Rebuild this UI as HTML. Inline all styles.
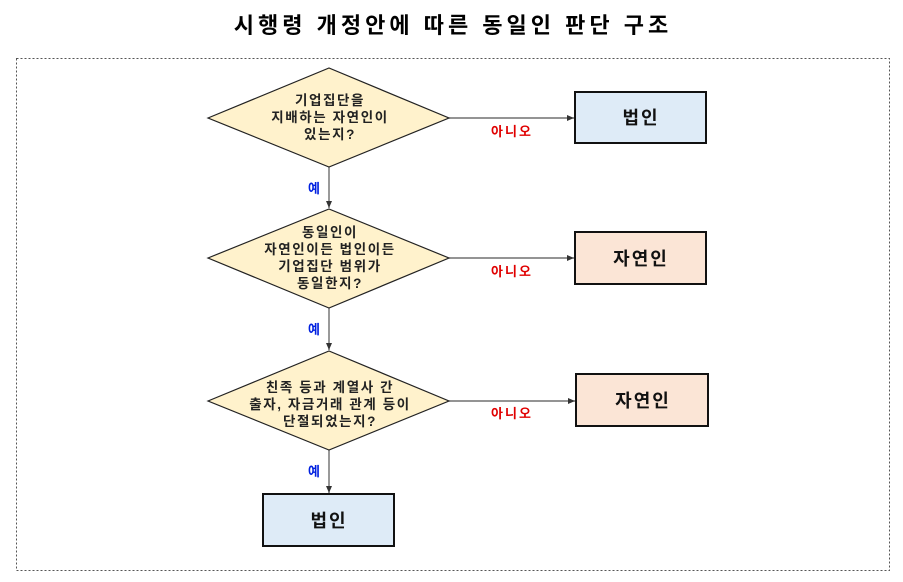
<!DOCTYPE html>
<html><head><meta charset="utf-8"><style>
body{margin:0;width:903px;height:577px;background:#fff;overflow:hidden}
svg text{font-family:"Liberation Sans","Noto Sans CJK KR",sans-serif;font-weight:bold}
</style></head><body>
<svg width="903" height="577" xmlns="http://www.w3.org/2000/svg">
<defs><marker id="a" markerWidth="8" markerHeight="8" refX="7" refY="4" orient="auto" markerUnits="userSpaceOnUse"><path d="M0,1 L7,4 L0,7z" fill="#333"/></marker></defs>
<text x="453" y="33" font-size="22" text-anchor="middle" fill="#000" letter-spacing="4">시행령 개정안에 따른 동일인 판단 구조</text>
<rect x="16.5" y="58.5" width="873" height="512" fill="none" stroke="#555" stroke-dasharray="2,2"/>
<g stroke="#555" stroke-width="1.2" fill="none" marker-end="url(#a)">
<line x1="449" y1="118" x2="574" y2="118"/>
<line x1="449" y1="258" x2="574" y2="258"/>
<line x1="449" y1="401" x2="575" y2="401"/>
<line x1="329" y1="167" x2="329" y2="208"/>
<line x1="329" y1="308" x2="329" y2="350"/>
<line x1="329" y1="450" x2="329" y2="493"/>
</g>
<g fill="#fff2cc" stroke="#222" stroke-width="1.2">
<polygon points="208,118 329,68 449,118 329,167"/>
<polygon points="208,258 329,209 449,258 329,308"/>
<polygon points="208,401 329,351 449,401 329,450"/>
</g>
<g stroke="#111" stroke-width="2">
<rect x="575" y="92" width="131" height="51" fill="#deebf7"/>
<rect x="575" y="232" width="131" height="52" fill="#fbe5d6"/>
<rect x="576" y="374" width="132" height="52" fill="#fbe5d6"/>
<rect x="263" y="494" width="131" height="52" fill="#deebf7"/>
</g>
<g font-size="18" text-anchor="middle" fill="#111" letter-spacing="2">
<text x="641" y="124">법인</text>
<text x="641" y="265">자연인</text>
<text x="643" y="407">자연인</text>
<text x="329" y="527">법인</text>
</g>
<g font-size="13.5" text-anchor="middle" fill="#222" letter-spacing="1.6">
<text x="330" y="105">기업집단을</text>
<text x="330" y="122">지배하는 자연인이</text>
<text x="330" y="139">있는지?</text>
<text x="330" y="237">동일인이</text>
<text x="330" y="254">자연인이든 법인이든</text>
<text x="330" y="271">기업집단 범위가</text>
<text x="330" y="288">동일한지?</text>
<text x="330" y="392">친족 등과 계열사 간</text>
<text x="330" y="409">출자, 자금거래 관계 등이</text>
<text x="330" y="426">단절되었는지?</text>
</g>
<g font-size="13" fill="#e00000" text-anchor="middle" letter-spacing="2">
<text x="512" y="136">아니오</text>
<text x="512" y="276">아니오</text>
<text x="512" y="418">아니오</text>
</g>
<g font-size="13" fill="#0020e0" text-anchor="middle">
<text x="314" y="193">예</text>
<text x="314" y="334">예</text>
<text x="314" y="476">예</text>
</g>
</svg>
</body></html>
